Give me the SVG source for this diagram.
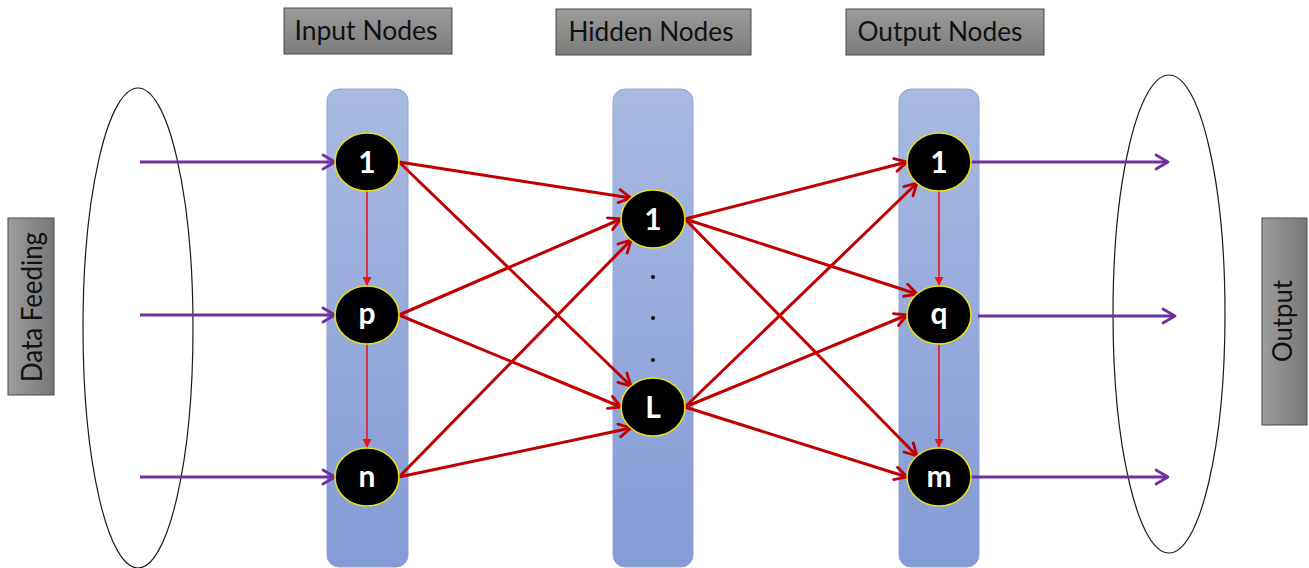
<svg xmlns="http://www.w3.org/2000/svg" width="1309" height="568" viewBox="0 0 1309 568">
<style>
.col{fill:url(#colGrad);stroke:#8fa3d6;stroke-width:1}
.lbl{fill:url(#grayV);stroke:#4a4a4a;stroke-width:1}
.lblv{fill:url(#grayH);stroke:#4a4a4a;stroke-width:1}
.lt{font-family:Lato,"Open Sans","Liberation Sans",sans-serif;font-size:26px;fill:#111;text-anchor:middle}
.node{fill:#000;stroke:#e6e21a;stroke-width:1.6}
.nt{font-family:Lato,"Open Sans","Liberation Sans",sans-serif;font-size:30px;font-weight:bold;fill:#fff;text-anchor:middle}
.ell{fill:none;stroke:#1a1a1a;stroke-width:1.2}
.red{stroke:#c00000;stroke-width:3;fill:none;marker-end:url(#chevRed)}
.thin{stroke:#e8161b;stroke-width:1.6;fill:none;marker-end:url(#triRed)}
.pur{stroke:#7030a0;stroke-width:3;fill:none;marker-end:url(#chevPur)}
</style>
<defs>
<linearGradient id="colGrad" x1="0" y1="0" x2="0" y2="1">
<stop offset="0" stop-color="#a9b9e1"/>
<stop offset="1" stop-color="#849bd6"/>
</linearGradient>
<linearGradient id="grayV" x1="0" y1="0" x2="0" y2="1">
<stop offset="0" stop-color="#9b9b9b"/>
<stop offset="1" stop-color="#7c7c7c"/>
</linearGradient>
<linearGradient id="grayH" x1="0" y1="0" x2="1" y2="0">
<stop offset="0" stop-color="#9d9d9d"/>
<stop offset="1" stop-color="#777"/>
</linearGradient>
<marker id="chevRed" viewBox="0 0 16 16" markerWidth="16" markerHeight="16" refX="14" refY="8" orient="auto" markerUnits="userSpaceOnUse">
<path d="M2,1.5 L14,8 L2,14.5" fill="none" stroke="#c00000" stroke-width="2.8" stroke-linecap="round" stroke-linejoin="round"/>
</marker>
<marker id="chevPur" viewBox="0 0 16 18" markerWidth="16" markerHeight="18" refX="14" refY="9" orient="auto" markerUnits="userSpaceOnUse">
<path d="M2,2 L14,9 L2,16" fill="none" stroke="#7030a0" stroke-width="2.8" stroke-linecap="round" stroke-linejoin="round"/>
</marker>
<marker id="triRed" viewBox="0 0 10 10" markerWidth="9" markerHeight="9" refX="10" refY="5" orient="auto" markerUnits="userSpaceOnUse">
<path d="M0,0 L10,5 L0,10 z" fill="#e8161b"/>
</marker>
</defs>

<g id="label-input-nodes">
<rect class="lbl" x="284" y="8" width="168" height="46"/>
<text class="lt" x="366" y="40" textLength="143" lengthAdjust="spacingAndGlyphs">Input Nodes</text>
</g>
<g id="label-hidden-nodes">
<rect class="lbl" x="556" y="9" width="195" height="46"/>
<text class="lt" x="651" y="41" textLength="165" lengthAdjust="spacingAndGlyphs">Hidden Nodes</text>
</g>
<g id="label-output-nodes">
<rect class="lbl" x="846" y="9" width="198" height="46"/>
<text class="lt" x="940" y="41" textLength="165" lengthAdjust="spacingAndGlyphs">Output Nodes</text>
</g>
<g id="label-data-feeding">
<rect class="lblv" x="8" y="218" width="46" height="177"/>
<text class="lt" x="0" y="0" transform="translate(42 307) rotate(-90)" textLength="150" lengthAdjust="spacingAndGlyphs" style="font-size:28px">Data Feeding</text>
</g>
<g id="label-output">
<rect class="lblv" x="1262" y="218" width="45" height="207"/>
<text class="lt" x="0" y="0" transform="translate(1292 321) rotate(-90)" textLength="82" lengthAdjust="spacingAndGlyphs">Output</text>
</g>

<g id="data-ellipse"><ellipse class="ell" cx="138" cy="328" rx="55" ry="240"/></g>
<g id="output-ellipse"><ellipse class="ell" cx="1169" cy="314" rx="56" ry="239"/></g>

<g id="input-column"><rect class="col" x="327" y="89" width="81" height="478" rx="12"/></g>
<g id="hidden-column"><rect class="col" x="613" y="89" width="80" height="478" rx="12"/></g>
<g id="output-column"><rect class="col" x="899" y="89" width="80" height="478" rx="12"/></g>

<g id="connectors">
<line class="pur" x1="140" y1="162" x2="335" y2="162"/>
<line class="pur" x1="140" y1="315" x2="335" y2="315"/>
<line class="pur" x1="140" y1="477" x2="335" y2="477"/>
<line class="pur" x1="971" y1="162" x2="1168" y2="162"/>
<line class="pur" x1="978" y1="316" x2="1175" y2="316"/>
<line class="pur" x1="971" y1="477" x2="1168" y2="477"/>
<line class="thin" x1="367" y1="191" x2="367" y2="286"/>
<line class="thin" x1="367" y1="344" x2="367" y2="448"/>
<line class="thin" x1="939" y1="191" x2="939" y2="286"/>
<line class="thin" x1="939" y1="344" x2="939" y2="448"/>
<line class="red" x1="399" y1="162" x2="631" y2="198"/>
<line class="red" x1="399" y1="315" x2="621" y2="219"/>
<line class="red" x1="399" y1="477" x2="631" y2="240"/>
<line class="red" x1="399" y1="162" x2="631" y2="386"/>
<line class="red" x1="399" y1="315" x2="621" y2="407"/>
<line class="red" x1="399" y1="477" x2="631" y2="428"/>
<line class="red" x1="685" y1="219" x2="907" y2="162"/>
<line class="red" x1="685" y1="219" x2="917" y2="294"/>
<line class="red" x1="685" y1="219" x2="917" y2="456"/>
<line class="red" x1="685" y1="407" x2="917" y2="183"/>
<line class="red" x1="685" y1="407" x2="907" y2="315"/>
<line class="red" x1="685" y1="407" x2="907" y2="477"/>
</g>

<g id="node-in-1"><ellipse class="node" cx="367" cy="162" rx="32" ry="29"/><text class="nt" x="367" y="173">1</text></g>
<g id="node-in-p"><ellipse class="node" cx="367" cy="315" rx="32" ry="29"/><text class="nt" x="367" y="324">p</text></g>
<g id="node-in-n"><ellipse class="node" cx="367" cy="477" rx="32" ry="29"/><text class="nt" x="367" y="487">n</text></g>
<g id="node-hid-1"><ellipse class="node" cx="653" cy="219" rx="32" ry="29"/><text class="nt" x="653" y="230">1</text></g>
<g id="hidden-dots">
<circle cx="653" cy="277" r="2" fill="#000"/>
<circle cx="653" cy="318" r="2" fill="#000"/>
<circle cx="653" cy="360" r="2" fill="#000"/>
</g>
<g id="node-hid-L"><ellipse class="node" cx="653" cy="407" rx="32" ry="29"/><text class="nt" x="653" y="418">L</text></g>
<g id="node-out-1"><ellipse class="node" cx="939" cy="162" rx="32" ry="29"/><text class="nt" x="939" y="173">1</text></g>
<g id="node-out-q"><ellipse class="node" cx="939" cy="315" rx="32" ry="29"/><text class="nt" x="939" y="324">q</text></g>
<g id="node-out-m"><ellipse class="node" cx="939" cy="477" rx="32" ry="29"/><text class="nt" x="939" y="487">m</text></g>
</svg>
